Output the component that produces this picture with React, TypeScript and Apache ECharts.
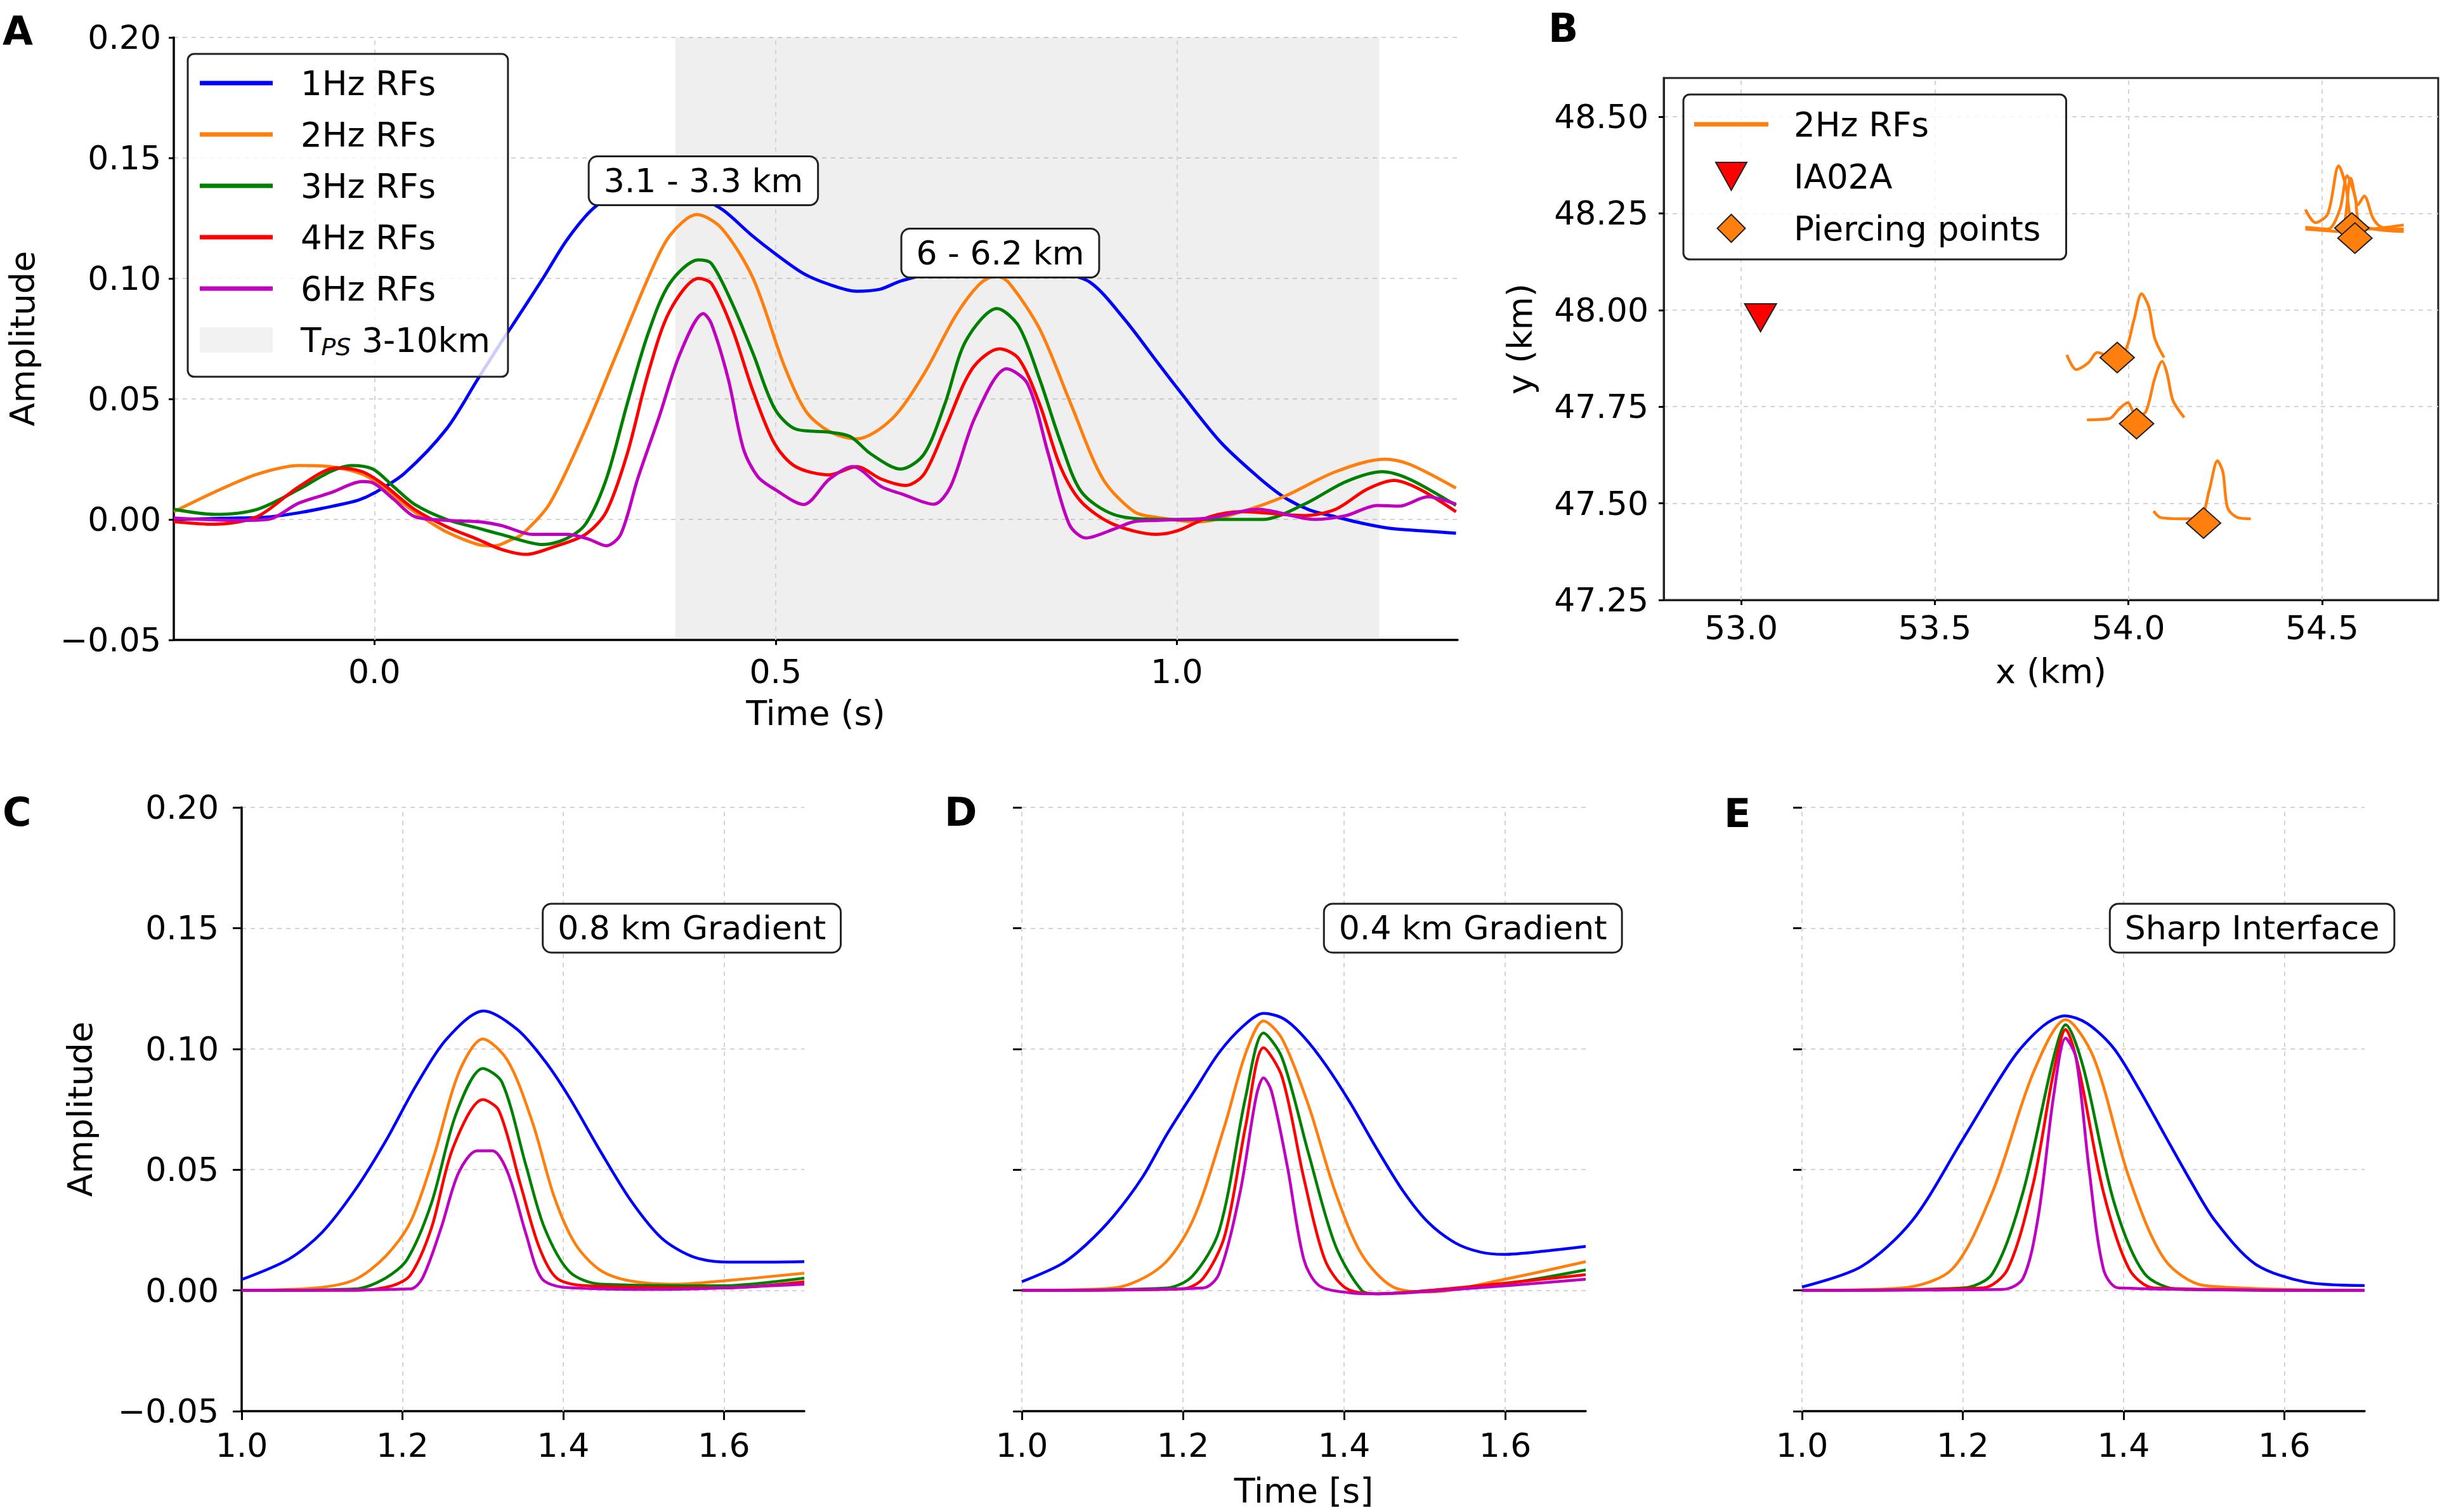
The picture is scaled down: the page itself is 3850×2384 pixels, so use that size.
import React, { useEffect, useRef } from 'react';
import * as echarts from 'echarts';

const FONT = '"DejaVu Sans", "Liberation Sans", sans-serif';
const C1 = '#0000ff';
const C2 = '#ff7f0e';
const C3 = '#008000';
const C4 = '#ff0000';
const C6 = '#bf00bf';

// ---------- Panel A : observed RFs (time s, amplitude) ----------
const A_1HZ = [[-0.25,0.0],[-0.18,0.0005],[-0.133,0.001],[-0.09,0.003],[-0.052,0.0055],[-0.02,0.008],[0.0,0.011],[0.037,0.019],[0.09,0.0376],[0.129,0.0583],[0.158,0.0735],[0.171,0.080],[0.21,0.1],[0.24,0.116],[0.273,0.1291],[0.31,0.1365],[0.345,0.139],[0.38,0.1375],[0.41,0.133],[0.436,0.128],[0.47,0.118],[0.499,0.1104],[0.535,0.102],[0.567,0.0975],[0.601,0.0947],[0.63,0.0955],[0.656,0.0989],[0.7,0.1025],[0.75,0.1045],[0.8,0.1045],[0.85,0.1025],[0.892,0.0984],[0.935,0.083],[0.975,0.0656],[0.999,0.0552],[1.054,0.0323],[1.1,0.018],[1.133,0.0094],[1.165,0.004],[1.198,0.0011],[1.23,-0.0015],[1.264,-0.0036],[1.3,-0.0046],[1.348,-0.0057]];
const A_2HZ = [[-0.25,0.0032],[-0.199,0.0114],[-0.146,0.0188],[-0.094,0.0224],[-0.055,0.0219],[-0.015,0.0188],[0.011,0.0136],[0.037,0.0063],[0.064,0.0],[0.09,-0.0052],[0.129,-0.0104],[0.15,-0.011],[0.17,-0.0085],[0.184,-0.0062],[0.218,0.0063],[0.263,0.0375],[0.302,0.0688],[0.341,0.1],[0.368,0.1177],[0.402,0.1265],[0.433,0.1207],[0.472,0.1],[0.511,0.0636],[0.538,0.0448],[0.567,0.0365],[0.601,0.0334],[0.645,0.0417],[0.685,0.0604],[0.724,0.0843],[0.755,0.0979],[0.775,0.101],[0.79,0.0985],[0.829,0.0791],[0.868,0.0479],[0.908,0.0168],[0.947,0.0032],[0.976,0.0008],[1.028,-0.001],[1.081,0.0032],[1.133,0.0094],[1.198,0.0198],[1.259,0.025],[1.29,0.0229],[1.348,0.013]];
const A_3HZ = [[-0.25,0.0042],[-0.199,0.0021],[-0.146,0.0042],[-0.094,0.0125],[-0.055,0.0198],[-0.029,0.0224],[-0.002,0.0209],[0.024,0.0136],[0.05,0.0063],[0.09,0.0],[0.129,-0.0036],[0.158,-0.0062],[0.21,-0.0104],[0.237,-0.0083],[0.263,-0.002],[0.289,0.0167],[0.315,0.0479],[0.341,0.077],[0.368,0.0979],[0.404,0.1077],[0.42,0.1062],[0.446,0.0896],[0.472,0.0688],[0.499,0.0459],[0.525,0.0375],[0.567,0.0362],[0.593,0.0344],[0.619,0.0271],[0.656,0.0209],[0.685,0.0271],[0.711,0.0479],[0.737,0.074],[0.776,0.0875],[0.803,0.0802],[0.829,0.0583],[0.855,0.0323],[0.881,0.0115],[0.921,0.0021],[0.975,0.0],[1.107,0.0],[1.159,0.0063],[1.211,0.0157],[1.256,0.0198],[1.29,0.0167],[1.348,0.0058]];
const A_4HZ = [[-0.25,-0.0009],[-0.199,-0.002],[-0.146,0.0012],[-0.094,0.0136],[-0.047,0.0214],[-0.015,0.0198],[0.011,0.0146],[0.05,0.0042],[0.09,-0.003],[0.129,-0.0083],[0.158,-0.0124],[0.189,-0.0145],[0.223,-0.0114],[0.263,-0.0062],[0.289,0.0032],[0.315,0.0271],[0.341,0.0604],[0.368,0.0864],[0.404,0.1],[0.42,0.0979],[0.446,0.0791],[0.472,0.0531],[0.499,0.0313],[0.525,0.0219],[0.567,0.0185],[0.601,0.0219],[0.632,0.0167],[0.662,0.0141],[0.685,0.0188],[0.711,0.0375],[0.745,0.0625],[0.779,0.0708],[0.803,0.0667],[0.829,0.0479],[0.855,0.0219],[0.881,0.0073],[0.921,-0.002],[0.975,-0.0062],[1.002,-0.0046],[1.041,0.0011],[1.081,0.0032],[1.159,0.0016],[1.198,0.0042],[1.237,0.0125],[1.271,0.0162],[1.303,0.0125],[1.348,0.0032]];
const A_6HZ = [[-0.25,0.0006],[-0.172,-0.0004],[-0.133,0.0],[-0.094,0.0068],[-0.055,0.011],[-0.015,0.0157],[-0.002,0.0152],[0.024,0.0084],[0.05,0.0012],[0.09,-0.0004],[0.129,-0.0009],[0.158,-0.0025],[0.197,-0.0062],[0.241,-0.0062],[0.268,-0.0083],[0.289,-0.0109],[0.307,-0.0062],[0.328,0.0167],[0.355,0.0427],[0.381,0.0688],[0.41,0.0854],[0.42,0.0812],[0.441,0.0583],[0.46,0.0292],[0.478,0.0177],[0.499,0.0125],[0.535,0.0062],[0.567,0.0167],[0.596,0.0219],[0.632,0.0136],[0.658,0.0105],[0.697,0.0063],[0.718,0.0136],[0.749,0.0427],[0.788,0.0625],[0.814,0.0563],[0.84,0.0271],[0.866,-0.002],[0.887,-0.0077],[0.921,-0.0041],[0.947,-0.0009],[0.976,-0.0004],[1.041,0.0006],[1.101,0.0042],[1.172,0.0],[1.211,0.0016],[1.25,0.0058],[1.277,0.0055],[1.313,0.0094],[1.348,0.0063]];
const A_TPS_WINDOW = [0.375, 1.2525];
const A_X_TICKS = [0, 0.5, 1.0];
const A_NOTES = [
  { name: '3.1 - 3.3 km', coord: [0.41, 0.1405] },
  { name: '6 - 6.2 km', coord: [0.78, 0.1105] },
];

// ---------- Panel B : map (x km, y km) ----------
const B_STATION = [[53.05, 47.98]];
const B_PIERCE = [[53.971,47.877],[54.021,47.706],[54.194,47.449],[54.577,48.212],[54.585,48.186]];
const B_TRACE_1 = [[53.841,47.884],[53.865,47.846],[53.896,47.863],[53.92,47.89],[53.951,47.881],[53.99,47.892],[54.014,47.973],[54.034,48.042],[54.053,48.007],[54.068,47.927],[54.092,47.877]];
const B_TRACE_2 = [[53.893,47.716],[53.951,47.719],[53.975,47.743],[53.998,47.76],[54.021,47.725],[54.045,47.737],[54.068,47.823],[54.087,47.867],[54.1,47.835],[54.115,47.766],[54.144,47.722]];
const B_TRACE_3 = [[54.065,47.48],[54.084,47.463],[54.139,47.46],[54.186,47.464],[54.209,47.535],[54.23,47.61],[54.244,47.581],[54.256,47.489],[54.28,47.464],[54.316,47.46]];
const B_TRACE_4 = [[54.457,48.26],[54.483,48.226],[54.515,48.249],[54.543,48.373],[54.562,48.318],[54.577,48.226],[54.609,48.209],[54.711,48.22]];
const B_TRACE_5 = [[54.457,48.214],[54.515,48.209],[54.546,48.26],[54.565,48.347],[54.585,48.295],[54.601,48.22],[54.711,48.203]];
const B_TRACE_6 = [[54.457,48.209],[54.546,48.203],[54.574,48.341],[54.593,48.272],[54.609,48.295],[54.632,48.237],[54.655,48.214],[54.711,48.209]];
const B_X_TICKS = [53.0, 53.5, 54.0, 54.5];
const B_Y_TICKS = [47.25, 47.5, 47.75, 48.0, 48.25, 48.5];

// ---------- Panels C, D, E : synthetic RFs ----------
const C_1HZ = [[1.0,0.0045],[1.059,0.013],[1.1,0.024],[1.141,0.0415],[1.179,0.0617],[1.217,0.0848],[1.255,0.1041],[1.301,0.1157],[1.343,0.108],[1.377,0.0951],[1.408,0.0797],[1.446,0.0578],[1.484,0.0373],[1.522,0.0218],[1.56,0.0141],[1.598,0.0118],[1.65,0.0117],[1.7,0.0119]];
const C_2HZ = [[1.0,0],[1.092,0.001],[1.141,0.0045],[1.179,0.0141],[1.21,0.0283],[1.24,0.0565],[1.27,0.09],[1.3,0.1041],[1.331,0.0951],[1.362,0.0694],[1.389,0.0386],[1.415,0.0193],[1.446,0.0084],[1.484,0.0039],[1.541,0.0026],[1.598,0.0039],[1.7,0.0071]];
const C_3HZ = [[1.0,0],[1.141,0.0006],[1.179,0.0051],[1.206,0.0129],[1.236,0.036],[1.267,0.0733],[1.3,0.0919],[1.324,0.0861],[1.354,0.0514],[1.377,0.0257],[1.408,0.0077],[1.446,0.0026],[1.598,0.0019],[1.7,0.0051]];
const C_4HZ = [[1.0,0],[1.141,0],[1.187,0.0019],[1.21,0.0064],[1.236,0.0257],[1.263,0.0591],[1.3,0.079],[1.32,0.0745],[1.347,0.0437],[1.37,0.018],[1.392,0.0051],[1.43,0.0019],[1.598,0.001],[1.7,0.0036]];
const C_6HZ = [[1.0,0],[1.21,0.0006],[1.225,0.0051],[1.248,0.0257],[1.27,0.0488],[1.293,0.0578],[1.312,0.0578],[1.331,0.0488],[1.354,0.0231],[1.373,0.0051],[1.4,0.0013],[1.522,0.0004],[1.7,0.0026]];

const D_1HZ = [[1.0,0.0036],[1.049,0.0109],[1.08,0.019],[1.114,0.0308],[1.15,0.047],[1.18,0.0646],[1.215,0.083],[1.245,0.0985],[1.275,0.1095],[1.3,0.1147],[1.325,0.1125],[1.35,0.105],[1.378,0.093],[1.408,0.0775],[1.44,0.059],[1.474,0.0408],[1.505,0.028],[1.539,0.0195],[1.57,0.0158],[1.598,0.0149],[1.65,0.0163],[1.7,0.0182]];
const D_2HZ = [[1.0,0],[1.114,0.001],[1.173,0.0099],[1.212,0.0288],[1.252,0.0684],[1.278,0.0983],[1.3,0.1116],[1.323,0.1042],[1.356,0.0765],[1.389,0.0408],[1.422,0.0149],[1.461,0.0014],[1.507,-0.0006],[1.605,0.005],[1.7,0.0119]];
const D_3HZ = [[1.0,0],[1.18,0.001],[1.212,0.006],[1.245,0.0248],[1.278,0.0804],[1.3,0.1066],[1.323,0.0963],[1.356,0.0566],[1.389,0.0188],[1.422,0.0],[1.441,-0.0014],[1.507,0.0],[1.605,0.003],[1.7,0.0085]];
const D_4HZ = [[1.0,0],[1.199,0.0006],[1.225,0.005],[1.252,0.0228],[1.278,0.0684],[1.3,0.1005],[1.323,0.0884],[1.35,0.0466],[1.376,0.0129],[1.402,0.001],[1.441,-0.0014],[1.539,0.001],[1.7,0.0065]];
const D_6HZ = [[1.0,0],[1.225,0.001],[1.245,0.007],[1.271,0.0407],[1.291,0.0804],[1.3,0.088],[1.31,0.0824],[1.33,0.0506],[1.35,0.0129],[1.369,0.002],[1.408,-0.001],[1.441,-0.0014],[1.539,0.0004],[1.7,0.0046]];

const E_1HZ = [[1.0,0.0014],[1.074,0.0099],[1.137,0.0288],[1.2,0.0625],[1.263,0.0963],[1.3,0.1095],[1.327,0.1137],[1.355,0.1105],[1.388,0.1002],[1.42,0.083],[1.451,0.0645],[1.484,0.045],[1.514,0.0288],[1.564,0.0109],[1.627,0.0034],[1.7,0.002]];
const E_2HZ = [[1.0,0],[1.124,0.001],[1.187,0.0089],[1.237,0.0407],[1.288,0.0903],[1.328,0.1121],[1.363,0.0963],[1.407,0.0466],[1.451,0.0129],[1.501,0.002],[1.7,0]];
const E_3HZ = [[1.0,0],[1.2,0.001],[1.237,0.007],[1.275,0.0407],[1.313,0.0963],[1.328,0.11],[1.35,0.0923],[1.388,0.0367],[1.426,0.007],[1.47,0.0004],[1.7,0]];
const E_4HZ = [[1.0,0],[1.225,0.001],[1.256,0.0089],[1.288,0.0446],[1.313,0.0903],[1.328,0.108],[1.344,0.0923],[1.375,0.0407],[1.407,0.0089],[1.438,0.001],[1.7,0]];
const E_6HZ = [[1.0,0],[1.25,0.0004],[1.275,0.005],[1.294,0.0307],[1.313,0.0804],[1.328,0.1045],[1.341,0.0962],[1.357,0.0506],[1.375,0.0089],[1.394,0.001],[1.7,0]];

const CDE_X_TICKS = [1.0, 1.2, 1.4, 1.6];
const CDE_NOTES = ['0.8 km Gradient', '0.4 km Gradient', 'Sharp Interface'];
const CDE_NOTE_AT = [1.56, 0.15];
const RF_NAMES = ['1Hz RFs', '2Hz RFs', '3Hz RFs', '4Hz RFs', '6Hz RFs'];

const TRI_PATH = 'path://M0,0 L10,0 L5,9 Z';
const DIA_PATH = 'path://M5,0 L10,5 L5,10 L0,5 Z';
const BAR_PATH = 'path://M0,0 L115,0 L115,7 L0,7 Z';

const fmtAmp = (v: number) => (Math.abs(v) < 1e-9 ? '0.00' : v.toFixed(2)).replace('-', '\u2212');

const GRID_LINE = { color: '#d4d4d4', width: 2, type: [7, 7] as any };

function rfLine(name: string, data: number[][], color: string, idx: number, width = 5) {
  return {
    type: 'line', name, data, xAxisIndex: idx, yAxisIndex: idx, symbol: 'none', smooth: 0.3,
    lineStyle: { color, width }, itemStyle: { color }, z: 3, silent: true, emphasis: { disabled: true },
  };
}

function vGrid(idx: number, ticks: number[]) {
  return {
    type: 'line', name: 'vgrid' + idx, data: [], xAxisIndex: idx, yAxisIndex: idx, silent: true,
    markLine: {
      silent: true, symbol: ['none', 'none'], z: 1, label: { show: false },
      lineStyle: GRID_LINE, emphasis: { disabled: true },
      data: ticks.map((v) => ({ xAxis: v })),
    },
  };
}

function note(idx: number, items: { name: string; coord: number[] }[]) {
  return {
    type: 'line', name: 'note' + idx, data: [], xAxisIndex: idx, yAxisIndex: idx, silent: true,
    markPoint: {
      symbol: 'rect', symbolSize: 2, itemStyle: { color: 'rgba(0,0,0,0)' }, z: 10, silent: true,
      label: {
        show: true, position: 'inside', formatter: '{b}', fontFamily: FONT, fontSize: 52, color: '#000',
        backgroundColor: '#fff', borderColor: '#222', borderWidth: 3, borderRadius: 12, padding: [12, 22, 10, 22],
      },
      data: items.map((it) => ({ name: it.name, coord: it.coord })),
    },
  };
}

const labelStyle = { fontFamily: FONT, fontSize: 52, color: '#000' };
const nameStyle = { fontFamily: FONT, fontSize: 54, color: '#000' };
const spine = { show: true, onZero: false, lineStyle: { color: '#000', width: 3.5 } };

function ampAxis(idx: number, withLabels: boolean, withLine: boolean, tickLen: number, margin: number, nameGap: number) {
  return {
    type: 'value', gridIndex: idx, min: -0.05, max: 0.2, interval: 0.05,
    axisLine: withLine ? spine : { show: false, onZero: false },
    axisTick: { show: true, length: tickLen, lineStyle: { color: '#000', width: 3 } },
    axisLabel: { show: withLabels, ...labelStyle, margin, formatter: fmtAmp },
    splitLine: { show: true, lineStyle: GRID_LINE },
    name: withLabels ? 'Amplitude' : '', nameLocation: 'middle', nameGap, nameTextStyle: nameStyle,
  };
}

function timeAxisCDE(idx: number, name: string) {
  return {
    type: 'value', gridIndex: idx, min: 1.0, max: 1.7,
    axisLine: spine,
    axisTick: { show: true, length: 14, customValues: CDE_X_TICKS, lineStyle: { color: '#000', width: 3 } },
    axisLabel: { ...labelStyle, margin: 28, customValues: CDE_X_TICKS, formatter: (v: number) => v.toFixed(1) },
    splitLine: { show: false },
    name, nameLocation: 'middle', nameGap: 98, nameTextStyle: nameStyle,
  };
}

function buildOption() {
  const rfA = [A_1HZ, A_2HZ, A_3HZ, A_4HZ, A_6HZ];
  const rfC = [C_1HZ, C_2HZ, C_3HZ, C_4HZ, C_6HZ];
  const rfD = [D_1HZ, D_2HZ, D_3HZ, D_4HZ, D_6HZ];
  const rfE = [E_1HZ, E_2HZ, E_3HZ, E_4HZ, E_6HZ];
  const cols = [C1, C2, C3, C4, C6];
  const series: any[] = [];

  // Panel A
  series.push({
    type: 'line', name: 'TPS', data: [], xAxisIndex: 0, yAxisIndex: 0, silent: true,
    itemStyle: { color: '#f1f1f1' }, lineStyle: { color: '#f1f1f1' },
    markArea: {
      silent: true, z: 1, itemStyle: { color: 'rgba(120,120,120,0.12)' },
      data: [[{ xAxis: A_TPS_WINDOW[0] }, { xAxis: A_TPS_WINDOW[1] }]],
    },
  });
  series.push(vGrid(0, A_X_TICKS));
  rfA.forEach((d, i) => series.push(rfLine(RF_NAMES[i], d, cols[i], 0)));
  series.push(note(0, A_NOTES));

  // Panel B
  series.push(vGrid(1, B_X_TICKS));
  [B_TRACE_1, B_TRACE_2, B_TRACE_3, B_TRACE_4, B_TRACE_5, B_TRACE_6].forEach((d) =>
    series.push({ ...rfLine('2Hz RFs', d, C2, 1, 4.5) }));
  series.push({
    type: 'scatter', name: 'IA02A', data: B_STATION, xAxisIndex: 1, yAxisIndex: 1, symbol: TRI_PATH,
    symbolSize: [50, 44], itemStyle: { color: '#ff0000', borderColor: '#222', borderWidth: 2, opacity: 1 }, z: 5, silent: true,
  });
  series.push({
    type: 'scatter', name: 'Piercing points', data: B_PIERCE, xAxisIndex: 1, yAxisIndex: 1, symbol: DIA_PATH,
    symbolSize: [54, 48], itemStyle: { color: C2, borderColor: '#222', borderWidth: 2, opacity: 1 }, z: 5, silent: true,
  });

  // Panels C, D, E
  [rfC, rfD, rfE].forEach((set, p) => {
    const idx = p + 2;
    series.push(vGrid(idx, p === 0 ? CDE_X_TICKS.slice(1) : CDE_X_TICKS));
    set.forEach((d, i) => series.push(rfLine(RF_NAMES[i] + ' ' + idx, d, cols[i], idx, 4.5)));
    series.push(note(idx, [{ name: CDE_NOTES[p], coord: CDE_NOTE_AT }]));
  });

  const letter = (t: string, x: number, y: number) => ({
    type: 'text', x, y, silent: true,
    style: { text: t, fontFamily: FONT, fontSize: 62, fontWeight: 'bold', fill: '#000', verticalAlign: 'middle', align: 'left' },
  });

  const barItem = (name: string, color: string) => ({
    name, icon: BAR_PATH, itemStyle: { color, borderWidth: 0, opacity: 1 },
  });

  return {
    animation: false,
    backgroundColor: '#fff',
    textStyle: { fontFamily: FONT },
    grid: [
      { left: 265, top: 59, width: 2033, height: 950 },
      { left: 2623, top: 123, width: 1221, height: 823, show: true, borderColor: '#222', borderWidth: 3, backgroundColor: 'transparent' },
      { left: 381, top: 1273, width: 887, height: 952 },
      { left: 1611, top: 1273, width: 889, height: 952 },
      { left: 2841, top: 1273, width: 887, height: 952 },
    ],
    xAxis: [
      {
        type: 'value', gridIndex: 0, min: -0.25, max: 1.35,
        axisLine: spine,
        axisTick: { show: true, length: 8, customValues: A_X_TICKS, lineStyle: { color: '#000', width: 3 } },
        axisLabel: { ...labelStyle, margin: 24, customValues: A_X_TICKS, formatter: (v: number) => v.toFixed(1) },
        splitLine: { show: false },
        name: 'Time (s)', nameLocation: 'middle', nameGap: 88, nameTextStyle: nameStyle,
      },
      {
        type: 'value', gridIndex: 1, min: 52.8, max: 54.8,
        axisLine: { show: true, onZero: false, lineStyle: { color: '#222', width: 3 } },
        axisTick: { show: true, length: 8, customValues: B_X_TICKS, lineStyle: { color: '#000', width: 3 } },
        axisLabel: { ...labelStyle, margin: 18, customValues: B_X_TICKS, formatter: (v: number) => v.toFixed(1) },
        splitLine: { show: false },
        name: 'x (km)', nameLocation: 'middle', nameGap: 85, nameTextStyle: nameStyle,
      },
      timeAxisCDE(2, ''),
      timeAxisCDE(3, 'Time [s]'),
      timeAxisCDE(4, ''),
    ],
    yAxis: [
      ampAxis(0, true, true, 8, 20, 212),
      {
        type: 'value', gridIndex: 1, min: 47.25, max: 48.6, interval: 0.25,
        axisLine: { show: true, onZero: false, lineStyle: { color: '#222', width: 3 } },
        axisTick: { show: true, length: 8, customValues: B_Y_TICKS, lineStyle: { color: '#000', width: 3 } },
        axisLabel: { ...labelStyle, margin: 24, customValues: B_Y_TICKS, formatter: (v: number) => v.toFixed(2) },
        splitLine: { show: true, lineStyle: GRID_LINE },
        name: 'y (km)', nameLocation: 'middle', nameGap: 200, nameTextStyle: nameStyle,
      },
      ampAxis(2, true, true, 14, 36, 228),
      ampAxis(3, false, false, 14, 36, 0),
      ampAxis(4, false, false, 14, 36, 0),
    ],
    legend: [
      {
        orient: 'vertical', left: 296, top: 85, selectedMode: false,
        data: [
          ...RF_NAMES.map((n, i) => barItem(n, cols[i])),
          { name: 'TPS', icon: 'rect', itemStyle: { color: '#f2f2f2', borderWidth: 0 } },
        ],
        itemWidth: 115, itemHeight: 40, itemGap: 21,
        padding: [16, 28, 28, 19],
        backgroundColor: 'rgba(255,255,255,0.8)', borderColor: '#222', borderWidth: 3, borderRadius: 10,
        formatter: (n: string) => (n === 'TPS' ? '{n|T}{s|PS}{n| 3-10km}' : n),
        textStyle: {
          fontFamily: FONT, fontSize: 53, color: '#000', lineHeight: 60, padding: [0, 0, 0, 39],
          rich: {
            n: { fontFamily: FONT, fontSize: 53, color: '#000', lineHeight: 60 },
            s: { fontFamily: FONT, fontSize: 38, fontStyle: 'italic', color: '#000', lineHeight: 38, padding: [22, 0, 0, 0] },
          },
        },
      },
      {
        orient: 'vertical', left: 2654, top: 149, selectedMode: false,
        data: [
          barItem('2Hz RFs', C2),
          { name: 'IA02A', icon: TRI_PATH, itemStyle: { color: '#ff0000', borderColor: '#222', borderWidth: 2, opacity: 1 } },
          { name: 'Piercing points', icon: DIA_PATH, itemStyle: { color: C2, borderColor: '#222', borderWidth: 2, opacity: 1 } },
        ],
        itemWidth: 117, itemHeight: 44, itemGap: 22,
        padding: [17, 40, 19, 17],
        backgroundColor: 'rgba(255,255,255,0.8)', borderColor: '#222', borderWidth: 3, borderRadius: 10,
        textStyle: { fontFamily: FONT, fontSize: 53, color: '#000', lineHeight: 60, padding: [0, 0, 0, 35] },
      },
    ],
    graphic: [
      letter('A', 4, 48),
      letter('B', 2441, 44),
      letter('C', 4, 1280),
      letter('D', 1489, 1280),
      letter('E', 2718, 1282),
    ],
    series,
  };
}

export default function App() {
  const ref = useRef<HTMLDivElement>(null);
  useEffect(() => {
    if (!ref.current) return;
    const chart = echarts.init(ref.current, undefined, { renderer: 'svg' });
    chart.setOption(buildOption() as any);
    return () => chart.dispose();
  }, []);
  return (
    <div
      ref={ref}
      style={{ position: 'fixed', left: 0, top: 0, width: 3850, height: 2384, background: '#fff' }}
    />
  );
}
